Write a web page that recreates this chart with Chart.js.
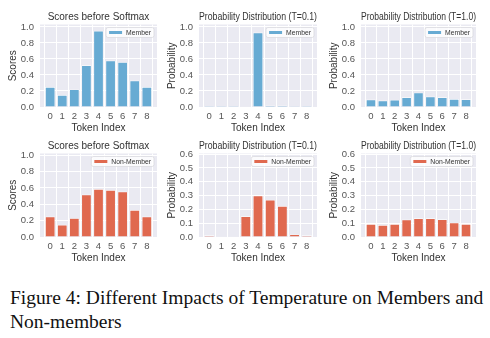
<!DOCTYPE html>
<html>
<head>
<meta charset="utf-8">
<script src="https://cdn.jsdelivr.net/npm/chart.js@4.4.0/dist/chart.umd.min.js"></script>
<style>
  body { margin: 0; background: #fff; width: 490px; height: 338px; position: relative; overflow: hidden; }
  canvas { position: absolute; }
  #caption { position: absolute; left: 10px; top: 286px; font-family: "Liberation Serif", serif; font-size: 19.5px; line-height: 24px; color: #111; white-space: nowrap; }
</style>
</head>
<body>
<canvas id="c0"></canvas>
<canvas id="c1"></canvas>
<canvas id="c2"></canvas>
<canvas id="c3"></canvas>
<canvas id="c4"></canvas>
<canvas id="c5"></canvas>
<div id="caption">Figure 4: Different Impacts of Temperature on Members and<br>Non-members</div>
<script>
const tokenIdx = [0, 1, 2, 3, 4, 5, 6, 7, 8];

const memberScores     = [0.25, 0.15, 0.22, 0.52, 0.95, 0.58, 0.56, 0.33, 0.25];
const memberProbT01    = [0.001, 0.0005, 0.001, 0.008, 0.93, 0.02, 0.018, 0.002, 0.001];
const memberProbT1     = [0.093, 0.081, 0.089, 0.122, 0.179, 0.13, 0.122, 0.10, 0.097];

const nonMemberScores  = [0.25, 0.15, 0.23, 0.52, 0.585, 0.575, 0.555, 0.33, 0.25];
const nonMemberProbT01 = [0.012, 0.002, 0.005, 0.15, 0.30, 0.27, 0.225, 0.019, 0.012];
const nonMemberProbT1  = [0.094, 0.087, 0.094, 0.126, 0.136, 0.136, 0.128, 0.104, 0.094];

const panelTitles = ['Scores before Softmax', 'Probability Distribution (T=0.1)', 'Probability Distribution (T=1.0)'];
const yTitles = ['Scores', 'Probability', 'Probability'];

const MEMBER_COLOR = '#67abd3';
const NONMEMBER_COLOR = '#e0694f';
const FONT = '"Liberation Sans", Arial, sans-serif';

// plot area edges for each column / row
const colLeft = [40, 199, 361], colRight = [157, 317, 476];
const rowTop = [24, 153], rowBottom = [107, 237];

const panels = [
  { data: memberScores,     label: 'Member',     color: MEMBER_COLOR,    col: 0, row: 0, max: 1.03,  step: 0.2 },
  { data: memberProbT01,    label: 'Member',     color: MEMBER_COLOR,    col: 1, row: 0, max: 1.03,  step: 0.2 },
  { data: memberProbT1,     label: 'Member',     color: MEMBER_COLOR,    col: 2, row: 0, max: 1.03,  step: 0.2 },
  { data: nonMemberScores,  label: 'Non-Member', color: NONMEMBER_COLOR, col: 0, row: 1, max: 1.02,  step: 0.2 },
  { data: nonMemberProbT01, label: 'Non-Member', color: NONMEMBER_COLOR, col: 1, row: 1, max: 0.605, step: 0.1 },
  { data: nonMemberProbT1,  label: 'Non-Member', color: NONMEMBER_COLOR, col: 2, row: 1, max: 0.605, step: 0.1 }
];

// gray plot background
const darkgrid = {
  id: 'darkgrid',
  beforeDraw(chart) {
    const a = chart.chartArea, ctx = chart.ctx;
    ctx.save();
    ctx.fillStyle = '#eaeaf2';
    ctx.fillRect(a.left, a.top, a.right - a.left, a.bottom - a.top);
    ctx.restore();
  }
};

// small framed legend in the upper right corner of the plot
const cornerLegend = {
  id: 'cornerLegend',
  afterDatasetsDraw(chart) {
    const a = chart.chartArea, ctx = chart.ctx;
    const ds = chart.data.datasets[0];
    ctx.save();
    ctx.font = '6.8px ' + FONT;
    const tw = ctx.measureText(ds.label).width;
    const w = 3 + 13 + 4 + tw + 3, h = 10;
    const x = a.right - 3 - w, y = a.top + 3;
    ctx.beginPath();
    ctx.roundRect(x, y, w, h, 2);
    ctx.fillStyle = 'rgba(255,255,255,0.8)';
    ctx.fill();
    ctx.strokeStyle = '#d4d4d8';
    ctx.lineWidth = 0.6;
    ctx.stroke();
    ctx.fillStyle = ds.backgroundColor;
    ctx.fillRect(x + 3, y + h / 2 - 1.5, 13, 3);
    ctx.fillStyle = '#333';
    ctx.textBaseline = 'middle';
    ctx.fillText(ds.label, x + 3 + 13 + 4, y + h / 2 + 0.5);
    ctx.restore();
  }
};

const TITLE_SIZE = 10, TITLE_PB = 2.5;
const PAD_L = 4, Y_W = 34, PAD_T = 2, TITLE_H = TITLE_SIZE + TITLE_PB, X_H = 30, PAD_B = 2, PAD_R = 4;

panels.forEach(function(p, i) {
  const plotW = colRight[p.col] - colLeft[p.col];
  const plotH = rowBottom[p.row] - rowTop[p.row];
  const cv = document.getElementById('c' + i);
  cv.width = PAD_L + Y_W + plotW + PAD_R;
  cv.height = PAD_T + TITLE_H + plotH + X_H + PAD_B;
  cv.style.left = (colLeft[p.col] - PAD_L - Y_W) + 'px';
  cv.style.top = (rowTop[p.row] - PAD_T - TITLE_H) + 'px';

  new Chart(cv.getContext('2d'), {
    type: 'bar',
    data: {
      datasets: [{
        label: p.label,
        data: tokenIdx.map((t, k) => ({ x: t, y: p.data[k] })),
        backgroundColor: p.color,
        borderColor: '#ffffff',
        borderWidth: 0.7,
        borderSkipped: 'start',
        categoryPercentage: 1,
        barPercentage: 0.84
      }]
    },
    options: {
      responsive: false,
      devicePixelRatio: 1,
      animation: false,
      layout: { padding: { left: PAD_L, top: PAD_T, right: PAD_R, bottom: PAD_B } },
      plugins: {
        legend: { display: false },
        tooltip: { enabled: false },
        title: {
          display: true,
          fullSize: false,
          text: panelTitles[p.col],
          color: '#333',
          font: { family: FONT, size: TITLE_SIZE, weight: 'normal', lineHeight: 1 },
          padding: { top: 0, bottom: TITLE_PB }
        }
      },
      scales: {
        x: {
          type: 'linear',
          offset: false,
          min: -0.84,
          max: 8.84,
          afterBuildTicks: axis => { axis.ticks = tokenIdx.map(t => ({ value: t })); },
          afterFit: scale => { scale.height = X_H; },
          grid: { color: '#ffffff', lineWidth: 1, drawTicks: false },
          border: { display: false },
          ticks: {
            color: '#555',
            padding: 4,
            maxRotation: 0,
            autoSkip: false,
            font: { family: FONT, size: 9.5 }
          },
          title: {
            display: true,
            text: 'Token Index',
            color: '#333',
            font: { family: FONT, size: 10 },
            padding: { top: 0, bottom: 3 }
          }
        },
        y: {
          min: 0,
          max: p.max,
          afterBuildTicks: axis => {
            const ticks = [];
            for (let k = 0; k * p.step <= p.max + 1e-9; k++) ticks.push({ value: +(k * p.step).toFixed(2) });
            axis.ticks = ticks;
          },
          afterFit: scale => { scale.width = Y_W; },
          grid: { color: '#ffffff', lineWidth: 1, drawTicks: false },
          border: { display: false },
          ticks: {
            color: '#555',
            padding: 6,
            autoSkip: false,
            font: { family: FONT, size: 9.5 },
            callback: v => v.toFixed(1)
          },
          title: {
            display: true,
            text: yTitles[p.col],
            color: '#333',
            font: { family: FONT, size: 10 },
            padding: { top: 1, bottom: 0 }
          }
        }
      }
    },
    plugins: [darkgrid, cornerLegend]
  });
});
</script>
</body>
</html>
